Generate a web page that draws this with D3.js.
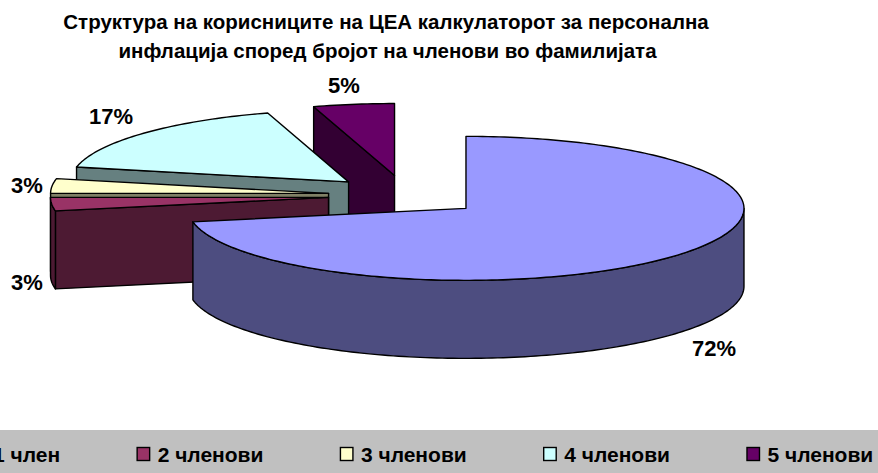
<!DOCTYPE html>
<html>
<head>
<meta charset="utf-8">
<script src="https://cdn.jsdelivr.net/npm/d3@7"></script>
<style>
  html, body { margin: 0; padding: 0; background: #fff; overflow: hidden; }
  svg { display: block; }
  text { font-family: "Liberation Sans", Arial, sans-serif; font-weight: bold; fill: #000; }
</style>
</head>
<body>
<svg width="878" height="473"></svg>
<script>
var titleLines = ["Структура на корисниците на ЦЕА калкулаторот за персонална",
                  "инфлација според бројот на членови во фамилијата"];
var categories = ["1 член", "2 членови", "3 членови", "4 членови", "5 членови"];
var values = [72, 3, 3.3, 17, 4.7];
var topColors = ["#9999FF", "#993366", "#FFFFCC", "#CCFFFF", "#660066"];
var sideColors = ["#4D4D80", "#4D1A33", "#808066", "#668080", "#330033"];
// label anchors, picked by hand like the chart app does
var labelPos = [[714, 348], [27, 282], [27, 185], [111, 116], [344, 85]];

var svg = d3.select("svg");

var explode = 0.28, depth = 78;

// unit disc -> tilted screen ellipse
var x = d3.scaleLinear().domain([-1, 1]).range([406 - 278, 406 + 278]);
var y = d3.scaleLinear().domain([-1, 1]).range([195.5 - 72, 195.5 + 72]);

var total = d3.sum(values);
var slices = d3.pie().sort(null).value(function(d) { return d; })(values);

slices.forEach(function(s, i) {
  var mid = (s.startAngle + s.endAngle) / 2;
  s.ox = explode * Math.sin(mid);
  s.oy = -explode * Math.cos(mid);
  s.index = i;
});

function rimPoint(s, a) {
  return [x(s.ox + Math.sin(a)), y(s.oy - Math.cos(a))];
}
function apex(s) {
  return [x(s.ox), y(s.oy)];
}
function arcPoints(s, a0, a1) {
  var n = Math.max(2, Math.ceil((a1 - a0) / 0.02));
  return d3.range(n + 1).map(function(k) { return rimPoint(s, a0 + (a1 - a0) * k / n); });
}
function drop(p) { return [p[0], p[1] + depth]; }

var line = d3.line();
function closed(pts) { return line(pts) + "Z"; }

var pieG = svg.append("g")
  .attr("stroke", "#000")
  .attr("stroke-width", 1.4)
  .attr("stroke-linejoin", "round");

// back to front: last slice sits behind, first slice in front
slices.slice().reverse().forEach(function(s) {
  var g = pieG.append("g").attr("class", "slice");
  var side = sideColors[s.index];

  // cut face along the start edge, only faces the viewer on the left half
  if (s.startAngle >= Math.PI) {
    var a = apex(s), b = rimPoint(s, s.startAngle);
    g.append("path").attr("fill", side).attr("d", closed([a, b, drop(b), drop(a)]));
  }

  // outer wall, front half of the ellipse only
  var from = Math.max(s.startAngle, Math.PI / 2), to = Math.min(s.endAngle, 3 * Math.PI / 2);
  if (to > from) {
    var rim = arcPoints(s, from, to);
    g.append("path").attr("fill", side)
      .attr("d", closed(rim.concat(rim.map(drop).reverse())));
  }

  g.append("path").attr("fill", topColors[s.index])
    .attr("d", closed([apex(s)].concat(arcPoints(s, s.startAngle, s.endAngle))));
});

svg.append("g").selectAll("text")
  .data(slices)
  .enter().append("text")
  .attr("x", function(d) { return labelPos[d.index][0]; })
  .attr("y", function(d) { return labelPos[d.index][1]; })
  .attr("dy", "0.36em")
  .attr("text-anchor", "middle")
  .style("font-size", "22px")
  .text(function(d) { return Math.round(d.value / total * 100) + "%"; });

svg.append("g").selectAll("text")
  .data(titleLines)
  .enter().append("text")
  .attr("x", function(d, i) { return 386 + i * 1.5; })
  .attr("y", function(d, i) { return 29 + i * 28.5; })
  .attr("text-anchor", "middle")
  .style("font-size", "20.5px")
  .text(function(d) { return d; });

// legend band runs off the left edge of the picture, same as the source
svg.append("rect")
  .attr("x", 0).attr("y", 430)
  .attr("width", 878).attr("height", 43)
  .attr("fill", "#C0C0C0");

var legendX = -28, legendGap = 76.5;
categories.forEach(function(name, i) {
  var g = svg.append("g").attr("class", "legend-item").attr("transform", "translate(" + legendX + ",0)");
  g.append("rect")
    .attr("x", 0.5).attr("y", 447.5)
    .attr("width", 12.5).attr("height", 13)
    .attr("fill", topColors[i])
    .attr("stroke", "#000").attr("stroke-width", 1.4);
  var t = g.append("text")
    .attr("x", 21).attr("y", 461.5)
    .style("font-size", "21px")
    .text(name);
  legendX += 21 + t.node().getComputedTextLength() + legendGap;
});
</script>
</body>
</html>
